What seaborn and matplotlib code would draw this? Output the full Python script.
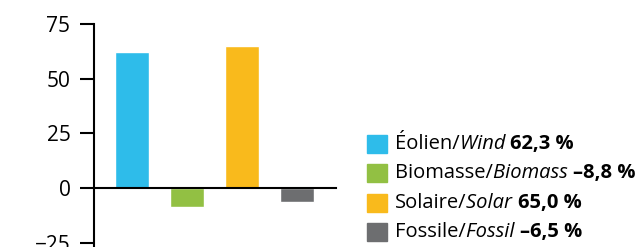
import numpy as np
import pandas as pd
import matplotlib
matplotlib.use('Agg')
import matplotlib.pyplot as plt
import seaborn as sns
from matplotlib.patches import Rectangle

# data
categories = ['Éolien', 'Biomasse', 'Solaire', 'Fossile']
english = ['Wind', 'Biomass', 'Solar', 'Fossil']
values = [62.3, -8.8, 65.0, -6.5]
value_labels = ['62,3 %', '–8,8 %', '65,0 %', '–6,5 %']
colors = ['#2EBCEA', '#92C043', '#F9BA1C', '#6D6E70']
yticks = [-25, 0, 25, 50, 75]

sns.set_style('white')
plt.rcParams['font.family'] = ['Open Sans', 'DejaVu Sans']

df = pd.DataFrame({'cat': categories, 'val': values})

fig = plt.figure(figsize=(6.4, 2.47), dpi=100)
ax = fig.add_axes([94 / 640, 0, (336 - 94) / 640, 1 - 24 / 247])

sns.barplot(data=df, x='cat', y='val', hue='cat', palette=colors,
            width=0.62, legend=False, ax=ax, saturation=1)

ax.set_xlim(-0.69, 3.71)
ax.set_ylim(-27, 75)
ax.set_yticks(yticks)
ax.set_xticks([])
ax.set_xlabel('')
ax.set_ylabel('')

# axes styling: left spine + zero line
for s in ['top', 'right']:
    ax.spines[s].set_visible(False)
ax.spines['bottom'].set_position(('data', 0))
for s in ['left', 'bottom']:
    ax.spines[s].set_color('black')
    ax.spines[s].set_linewidth(1.5)
    ax.spines[s].set_zorder(5)
ax.tick_params(axis='y', direction='out', length=10, width=1.5, pad=7,
               labelsize=15, colors='black', left=True)
ax.patch.set_alpha(0)

# legend, built by hand to mix regular / italic / bold text
fig.canvas.draw()
renderer = fig.canvas.get_renderer()
row_y = [144, 173, 203, 232]
for cat, en, lab, col, yy in zip(categories, english, value_labels, colors, row_y):
    yf = 1 - yy / 247
    fig.patches.append(Rectangle((367 / 640, yf - 9 / 247), 20 / 640, 18 / 247,
                                 transform=fig.transFigure, color=col, figure=fig))
    x = 395 / 640
    for txt, style, weight in [(cat + '/', 'normal', 'normal'),
                               (en + ' ', 'italic', 'normal'),
                               (lab, 'normal', 'bold')]:
        t = fig.text(x, yf, txt, fontsize=14.5, fontstyle=style, fontweight=weight,
                     va='center', ha='left', color='black')
        bb = t.get_window_extent(renderer)
        x = bb.x1 / fig.bbox.width

plt.savefig('out.png', dpi=100)
